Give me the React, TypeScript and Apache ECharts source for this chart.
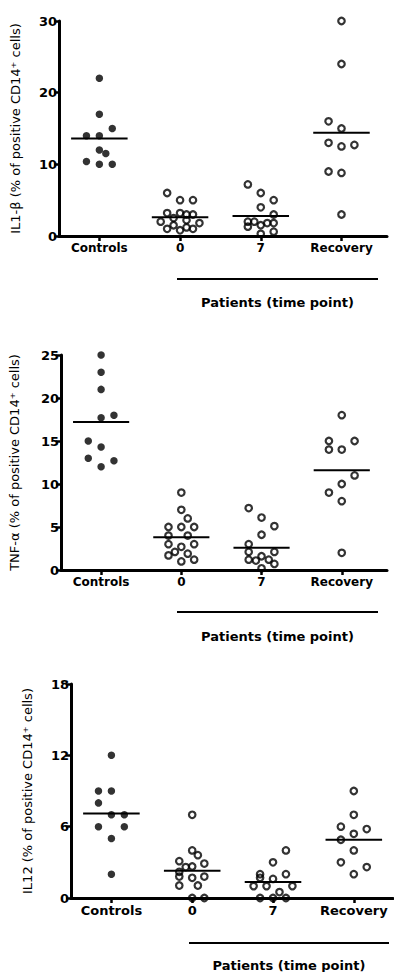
import React, { useEffect, useRef } from "react";
import * as echarts from "echarts";

const categories = ["Controls", "0", "7", "Recovery"];
const yTitles = [
  "IL1-β (% of positive CD14⁺ cells)",
  "TNF-α (% of positive CD14⁺ cells)",
  "IL12 (% of positive CD14⁺ cells)",
];
const groupLabel = "Patients (time point)";
const yMax = [30, 25, 18];
const yInterval = [10, 5, 6];

// IL1-β panel
const il1bControls = [22, 17, 15, 14, 14, 12, 11.5, 10.4, 10, 10];
const il1bControlsJitter = [0, 0, 0.16, -0.16, 0, 0, 0.08, -0.16, 0, 0.16];
const il1bDay0 = [6, 5, 5, 3.2, 3.2, 3, 3, 2.5, 2.2, 2, 1.8, 1.5, 1.2, 1, 0.8, 1];
const il1bDay0Jitter = [-0.16, 0, 0.16, -0.16, 0, 0.16, 0.08, -0.08, 0.08, -0.24, 0.24, -0.08, 0.08, -0.16, 0, 0.16];
const il1bDay7 = [7.2, 6, 5, 4, 3, 2, 2, 1.8, 1.8, 1.3, 1.5, 0.3, 0.6];
const il1bDay7Jitter = [-0.16, 0, 0.16, 0, 0.16, -0.16, -0.08, 0.08, 0.16, -0.16, 0, 0, 0.16];
const il1bRecovery = [30, 24, 16, 15, 13, 12.5, 12.7, 9, 8.8, 3];
const il1bRecoveryJitter = [0, 0, -0.16, 0, -0.16, 0, 0.16, -0.16, 0, 0];
const il1bMeans = [13.6, 2.6, 2.8, 14.4];

// TNF-α panel
const tnfControls = [25, 23, 21, 17.7, 18, 15, 14.3, 13, 12.7, 12];
const tnfControlsJitter = [0, 0, 0, 0, 0.16, -0.16, 0, -0.16, 0.16, 0];
const tnfDay0 = [9, 7, 6, 5, 5, 5, 4, 4, 3, 3, 2.7, 2.1, 1.9, 1.7, 1.2, 1.0];
const tnfDay0Jitter = [0, 0, 0.08, -0.16, 0, 0.16, -0.16, 0.08, -0.16, 0.16, 0, -0.08, 0.08, -0.16, 0.16, 0];
const tnfDay7 = [7.2, 6.1, 5.1, 4.1, 3, 2.1, 2.1, 1.6, 1.2, 1.2, 1.1, 0.7, 0.2];
const tnfDay7Jitter = [-0.16, 0, 0.16, 0, -0.16, -0.16, 0.16, 0, -0.16, 0.09, -0.07, 0.16, 0];
const tnfRecovery = [18, 15, 15, 14, 14, 11, 10, 9, 8, 2];
const tnfRecoveryJitter = [0, -0.16, 0.16, -0.16, 0, 0.16, 0, -0.16, 0, 0];
const tnfMeans = [17.2, 3.8, 2.6, 11.6];

// IL12 panel
const il12Controls = [12, 9, 9, 8, 7, 7, 6, 6, 5, 2];
const il12ControlsJitter = [0, -0.16, 0, -0.16, 0, 0.16, -0.16, 0.16, 0, 0];
const il12Day0 = [7, 4, 3.6, 3.1, 2.9, 2.6, 2.65, 2.2, 1.8, 1.7, 1.8, 1.05, 1.05, 0, 0];
const il12Day0Jitter = [0, 0, 0.07, -0.16, 0.15, -0.08, 0, -0.16, -0.16, 0, 0.15, -0.16, 0.07, 0, 0.15];
const il12Day7 = [4, 3, 2, 1.7, 2, 1.6, 1, 1, 1, 0.5, 0, 0, 0];
const il12Day7Jitter = [0.16, 0, -0.16, -0.16, 0.16, 0, -0.24, -0.08, 0.24, 0.08, -0.16, 0, 0.16];
const il12Recovery = [9, 7, 6, 5.8, 5.4, 4.9, 4, 3, 2.6, 2];
const il12RecoveryJitter = [0, 0, -0.16, 0.16, 0, -0.16, 0, -0.16, 0.16, 0];
const il12Means = [7.1, 2.3, 1.35, 4.9];

const panels = [
  {
    groups: [il1bControls, il1bDay0, il1bDay7, il1bRecovery],
    jitters: [il1bControlsJitter, il1bDay0Jitter, il1bDay7Jitter, il1bRecoveryJitter],
    means: il1bMeans,
  },
  {
    groups: [tnfControls, tnfDay0, tnfDay7, tnfRecovery],
    jitters: [tnfControlsJitter, tnfDay0Jitter, tnfDay7Jitter, tnfRecoveryJitter],
    means: tnfMeans,
  },
  {
    groups: [il12Controls, il12Day0, il12Day7, il12Recovery],
    jitters: [il12ControlsJitter, il12Day0Jitter, il12Day7Jitter, il12RecoveryJitter],
    means: il12Means,
  },
];

const FONT = "DejaVu Sans";

export default function App() {
  const ref = useRef<HTMLDivElement>(null);

  useEffect(() => {
    if (!ref.current) return;
    const chart = echarts.init(ref.current, null, { renderer: "svg" });

    const grids = [
      { left: 59, top: 21, width: 328, height: 215 },
      { left: 59, top: 355, width: 328, height: 215 },
      { left: 71, top: 684, width: 322, height: 214 },
    ];
    const xMax = [4.564, 4.564, 4.485];
    const nameGaps = [37, 40, 37];

    const xAxes = grids.map((g, i) => ({
      type: "value",
      gridIndex: i,
      min: 0.5,
      max: xMax[i],
      splitLine: { show: false },
      axisLine: { show: true, lineStyle: { color: "#000", width: 3 } },
      axisTick: {
        show: true,
        customValues: [1, 2, 3, 4],
        length: 5,
        lineStyle: { color: "#000", width: 2.5 },
      },
      axisLabel: {
        customValues: [1, 2, 3, 4],
        formatter: (v: number) => categories[Math.round(v) - 1] ?? "",
        color: "#000",
        fontFamily: FONT,
        fontWeight: "bold",
        fontSize: i === 2 ? 13 : 12,
        margin: 6,
      },
    }));

    const yAxes = grids.map((g, i) => ({
      type: "value",
      gridIndex: i,
      min: 0,
      max: yMax[i],
      interval: yInterval[i],
      name: yTitles[i],
      nameLocation: "middle",
      nameRotate: 90,
      nameGap: nameGaps[i],
      nameTextStyle: { color: "#000", fontFamily: FONT, fontSize: 13 },
      splitLine: { show: false },
      axisLine: { show: true, lineStyle: { color: "#000", width: 3 } },
      axisTick: { show: true, length: 5, lineStyle: { color: "#000", width: 2.5 } },
      axisLabel: {
        color: "#000",
        fontFamily: FONT,
        fontWeight: "bold",
        fontSize: 13,
        margin: 2,
      },
    }));

    const series: any[] = [];
    panels.forEach((p, pi) => {
      p.groups.forEach((vals, ci) => {
        const jit = p.jitters[ci];
        series.push({
          type: "scatter",
          xAxisIndex: pi,
          yAxisIndex: pi,
          symbol: "circle",
          symbolSize: ci === 0 ? 7.5 : 6.5,
          itemStyle:
            ci === 0
              ? { color: "#000" }
              : { color: "rgba(255,255,255,0)", borderColor: "#000", borderWidth: 2.2 },
          data: vals.map((v, k) => [ci + 1 + jit[k], v]),
          z: 3,
        });
        series.push({
          type: "line",
          xAxisIndex: pi,
          yAxisIndex: pi,
          symbol: "none",
          lineStyle: { color: "#000", width: 2 },
          data: [
            [ci + 1 - 0.35, p.means[ci]],
            [ci + 1 + 0.35, p.means[ci]],
          ],
          z: 4,
        });
      });
    });

    const brackets = [
      { x1: 177, x2: 378, y: 279, ty: 302 },
      { x1: 177, x2: 378, y: 612, ty: 636 },
      { x1: 189, x2: 389, y: 943, ty: 965 },
    ];
    const graphic: any[] = [];
    brackets.forEach((b) => {
      graphic.push({
        type: "line",
        shape: { x1: b.x1, y1: b.y, x2: b.x2, y2: b.y },
        style: { stroke: "#000", lineWidth: 2 },
      });
      graphic.push({
        type: "text",
        x: (b.x1 + b.x2) / 2,
        y: b.ty,
        style: {
          text: groupLabel,
          fill: "#000",
          font: `bold 13px "${FONT}"`,
          align: "center",
          verticalAlign: "middle",
        },
      });
    });

    chart.setOption({
      animation: false,
      backgroundColor: "#fff",
      grid: grids,
      xAxis: xAxes,
      yAxis: yAxes,
      series,
      graphic,
    });

    return () => chart.dispose();
  }, []);

  return (
    <div
      ref={ref}
      style={{ position: "absolute", left: 0, top: 0, width: 394, height: 972 }}
    />
  );
}
